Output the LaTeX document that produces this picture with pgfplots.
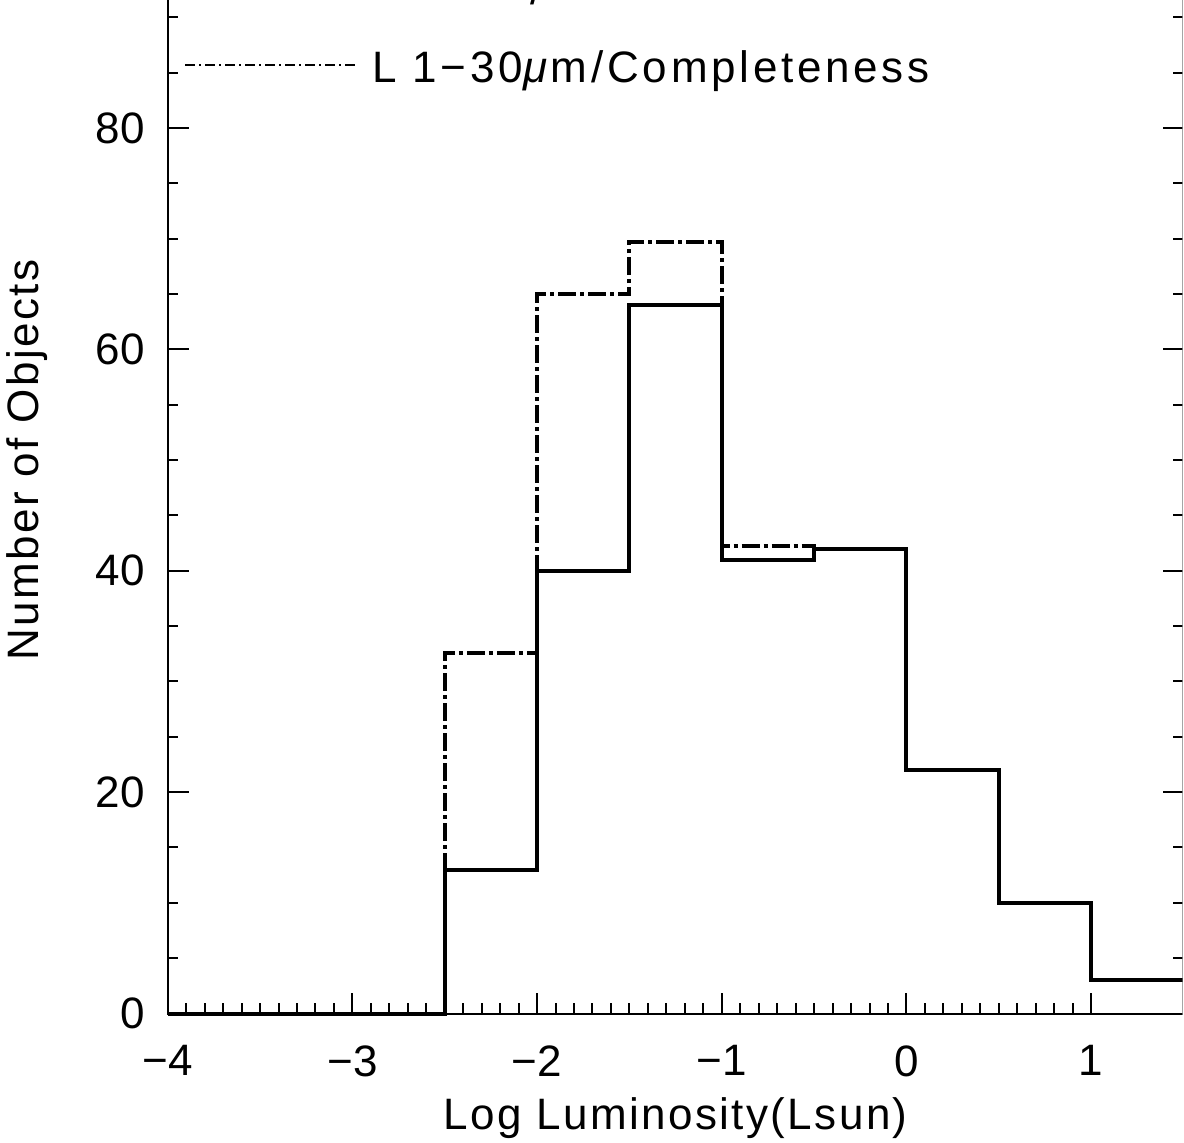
\documentclass[border=0pt]{standalone}
\usepackage{fontspec}
\setmainfont{Liberation Sans}
\newfontfamily\lbl[LetterSpace=5.5]{Liberation Sans}
\newfontfamily\leg[LetterSpace=8.5]{Liberation Sans}
\usepackage{pgfplots}
\pgfplotsset{compat=1.18}

\begin{document}
\begin{tikzpicture}[font=\fontsize{22}{26}\selectfont]
\useasboundingbox (-83.85pt,-64.25pt) rectangle (508.15pt,506.75pt);
\clip (-83.85pt,-64.25pt) rectangle (507.35pt,506.75pt);
\begin{axis}[
  at={(0,0)}, anchor=south west,
  scale only axis, width=507.9pt, height=553.5pt,
  xmin=-4, xmax=1.5, ymin=0, ymax=100,
  clip=false,
  axis line style={line width=1pt},
  tick align=inside,
  major tick length=10.5pt, minor tick length=5.25pt,
  every tick/.style={line width=1pt, black},
  xtick={-4,-3,-2,-1,0,1}, xticklabels={−4,−3,−2,−1,0,1},
  minor x tick num=9,
  ytick={0,20,40,60,80,100}, yticklabels={0,20,40,60,80,100},
  minor y tick num=3,
  tick label style={font=\fontsize{22}{26}\selectfont},
  label style={font=\fontsize{22}{26}\selectfont},
  xticklabel style={anchor=north, inner sep=0pt, yshift=-15.75pt},
  yticklabel style={anchor=east, inner sep=0pt, xshift=-11.35pt},
  xlabel={\lbl Log Luminosity(Lsun)},
  ylabel={\lbl Number of Objects},
  xlabel style={at={(axis description cs:0.5,-0.0754)}, anchor=north, inner sep=0pt},
  ylabel style={at={(axis description cs:-0.1585,0.5)}, anchor=north, inner sep=0pt},
]
\addplot[black, mark=none, const plot, line width=2pt, dash pattern=on 9pt off 2pt on 2pt off 2pt]
  coordinates {(-4,0) (-2.5,32.6) (-2,65) (-1.5,69.7) (-1,42.2) (-0.5,42) (0,22) (0.5,10) (1,3) (1.5,3)};
\addplot[black, mark=none, const plot, line width=2pt]
  coordinates {(-4,0) (-2.5,13) (-2,40) (-1.5,64) (-1,41) (-0.5,42) (0,22) (0.5,10) (1,3) (1.5,3)};
\draw[line width=1pt, dash pattern=on 5pt off 2pt on 1pt off 2pt] (axis cs:-3.906,85.68) -- (axis cs:-2.986,85.68);
\node[anchor=base west, inner sep=0pt] at (axis cs:-2.894,84.06) {\leg L 1−30\textit{μ}m/Completeness};
\node[anchor=south west, inner sep=0pt] at (axis cs:-2.04,91.1) {\leg /};
\end{axis}
\end{tikzpicture}
\end{document}
